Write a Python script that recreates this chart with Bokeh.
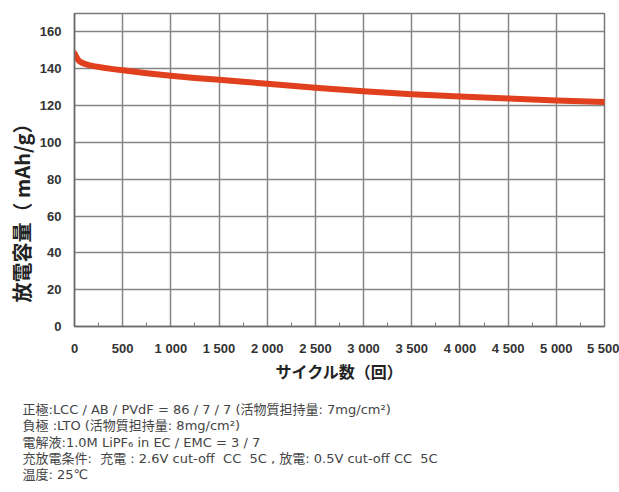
from bokeh.plotting import figure
from bokeh.layouts import column
from bokeh.models import Range1d, FixedTicker, Title, ColumnDataSource
from bokeh.core.properties import value
from bokeh.embed import file_html
from bokeh.resources import INLINE

# ---- data ----
cycles = [1, 10, 20, 35, 50, 75, 100, 150, 200, 300, 400, 500, 750, 1000, 1250,
          1500, 1750, 2000, 2500, 3000, 3500, 4000, 4500, 5000, 5500]
capacity = [148.3, 147.3, 146.3, 145.0, 144.1, 143.3, 142.8, 142.0, 141.4, 140.5,
            139.8, 139.2, 137.6, 136.2, 135.0, 134.0, 132.9, 131.9, 129.7, 127.8,
            126.2, 124.9, 123.8, 122.8, 121.9]

x_ticks = [0, 500, 1000, 1500, 2000, 2500, 3000, 3500, 4000, 4500, 5000, 5500]
x_tick_labels = ["0", "500", "1 000", "1 500", "2 000", "2 500", "3 000",
                 "3 500", "4 000", "4 500", "5 000", "5 500"]
x_minor = [250, 750, 1250, 1750, 2250, 2750, 3250, 3750, 4250, 4750, 5250]
y_ticks = [0, 20, 40, 60, 80, 100, 120, 140, 160]

x_title = "サイクル数（回）"
y_title = "放電容量（ mAh/g）"
notes = [
    "正極:LCC / AB / PVdF = 86 / 7 / 7 (活物質担持量: 7mg/cm²)",
    "負極 :LTO (活物質担持量: 8mg/cm²)",
    "電解液:1.0M LiPF₆ in EC / EMC = 3 / 7",
    "充放電条件:\u00a0 充電 : 2.6V cut-off\u00a0 CC\u00a0 5C , 放電: 0.5V cut-off CC\u00a0 5C",
    "温度: 25℃",
]

JP = "Noto Sans CJK JP"
W = 619

# ---------------- main chart ----------------
p = figure(width=W, height=390, output_backend="svg", toolbar_location=None,
           x_range=Range1d(0, 5500), y_range=Range1d(0, 170),
           min_border_left=74, min_border_right=15, min_border_top=13,
           min_border_bottom=64)
p.frame_align = False
p.background_fill_color = "white"
p.border_fill_color = "white"
p.outline_line_color = "#7a7a7a"
p.outline_line_width = 1.5

xt = FixedTicker(ticks=x_ticks, minor_ticks=x_minor)
yt = FixedTicker(ticks=y_ticks)
p.xaxis.ticker = xt
p.yaxis.ticker = yt
p.xgrid.ticker = FixedTicker(ticks=x_ticks)
p.ygrid.ticker = yt
p.xaxis.major_label_overrides = {t: l for t, l in zip(x_ticks, x_tick_labels)}

for g in (p.xgrid, p.ygrid):
    g.grid_line_color = "#858585"
    g.grid_line_width = 1.5

for ax in (p.xaxis, p.yaxis):
    ax.axis_line_color = "#6a6a6a"
    ax.axis_line_width = 1.5
    ax.major_tick_out = 0
    ax.major_tick_in = 0
    ax.major_label_text_font = "Liberation Sans"
    ax.major_label_text_font_style = "bold"
    ax.major_label_text_font_size = "13px"
    ax.major_label_text_color = "#333333"

p.xaxis.minor_tick_in = 4
p.xaxis.minor_tick_out = 0
p.xaxis.minor_tick_line_color = "#777777"
p.yaxis.minor_tick_in = 0
p.yaxis.minor_tick_out = 0
p.xaxis.major_label_standoff = 14
p.yaxis.major_label_standoff = 13

p.xaxis.axis_label = x_title
p.xaxis.axis_label_text_font = JP
p.xaxis.axis_label_text_font_style = "bold"
p.xaxis.axis_label_text_font_size = "16px"
p.xaxis.axis_label_text_color = "#222222"
p.xaxis.axis_label_standoff = 0

p.line(cycles, capacity, line_color="#e0401e", line_width=6, line_cap="round",
       line_join="round")

# y title as a left-side Title, anchored near the bottom of the frame
p.add_layout(Title(text=y_title, align="left", offset=24,
                   text_font=JP, text_font_style="bold", text_font_size="20px",
                   text_color="#222222", standoff=2), "left")

# ---------------- notes panel ----------------
NH = 102
q = figure(width=W, height=NH, output_backend="svg", toolbar_location=None,
           x_range=Range1d(0, W), y_range=Range1d(NH, 0),
           x_axis_type=None, y_axis_type=None,
           min_border_left=0, min_border_right=0, min_border_top=0,
           min_border_bottom=0)
q.frame_align = False
q.outline_line_color = None
q.xgrid.visible = False
q.ygrid.visible = False
q.background_fill_color = "white"
q.border_fill_color = "white"

first_line, line_step, text_left = 19, 16.3, 22
src = ColumnDataSource(dict(
    x=[text_left] * len(notes),
    y=[first_line + i * line_step for i in range(len(notes))],
    t=notes))
q.text(x="x", y="y", text="t", source=src,
       text_font=value("DejaVu Sans, Noto Sans CJK JP"),
       text_font_size="13px", text_color="#444444",
       text_align="left", text_baseline="middle")

layout = column(p, q, spacing=0)
open("out.html", "w").write(file_html(layout, INLINE))
